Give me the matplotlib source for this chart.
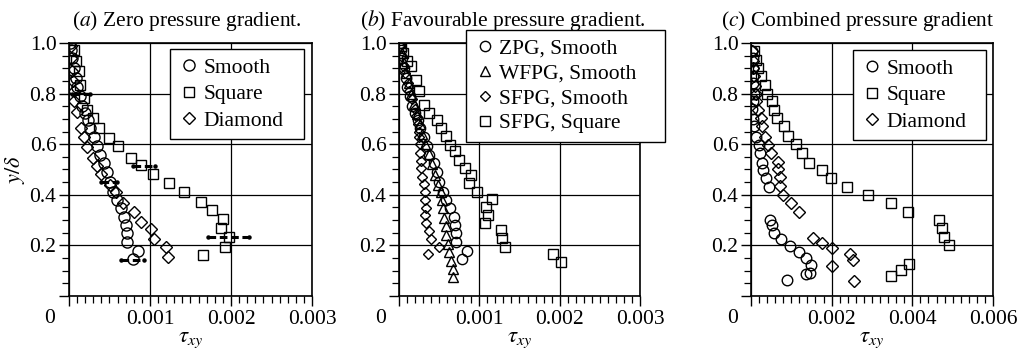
import matplotlib
matplotlib.use("Agg")
import matplotlib.pyplot as plt
from matplotlib.ticker import MultipleLocator

plt.rcParams["font.family"] = ["Liberation Serif", "DejaVu Serif"]
plt.rcParams["mathtext.fontset"] = "stix"
plt.rcParams["font.size"] = 15

# ---- (a) zero pressure gradient ----
a_smooth_x = [0.000017, 0.000029, 0.000041, 0.000058, 0.000083, 0.000103, 0.000132,
              0.000165, 0.000194, 0.000236, 0.000264, 0.000306, 0.000347, 0.00038,
              0.00043, 0.000475, 0.000504, 0.000545, 0.000587, 0.00064, 0.00068,
              0.0007, 0.000712, 0.000716, 0.000848, 0.000786]
a_smooth_y = [1.0, 0.974, 0.94, 0.90, 0.861, 0.826, 0.789, 0.752, 0.725, 0.694, 0.663,
              0.63, 0.593, 0.557, 0.524, 0.491, 0.452, 0.412, 0.379, 0.348, 0.313,
              0.28, 0.248, 0.215, 0.179, 0.145]
a_square_x = [0.000065, 0.000086, 0.00012, 0.000136, 0.000189, 0.000219, 0.000293,
              0.000374, 0.00049, 0.000601, 0.000765, 0.00089, 0.00104, 0.00123,
              0.001424, 0.00163, 0.00176, 0.0019, 0.001877, 0.00198, 0.001926, 0.00165]
a_square_y = [0.974, 0.928, 0.888, 0.835, 0.783, 0.737, 0.704, 0.664, 0.625, 0.592,
              0.545, 0.518, 0.482, 0.445, 0.41, 0.373, 0.34, 0.303, 0.268, 0.232,
              0.195, 0.162]
a_diamond_x = [0.00002, 0.00003, 0.00004, 0.00005, 0.00006, 0.000066, 0.000099,
               0.000145, 0.000182, 0.000223, 0.000298, 0.000347, 0.0004, 0.000504,
               0.000579, 0.000661, 0.000806, 0.00089, 0.00101, 0.00105, 0.0012, 0.00122]
a_diamond_y = [0.987, 0.94, 0.89, 0.85, 0.81, 0.769, 0.729, 0.663, 0.63, 0.59, 0.544,
               0.515, 0.482, 0.439, 0.412, 0.369, 0.333, 0.294, 0.265, 0.225, 0.192,
               0.153]
# horizontal error bars in (a)
err_y = [0.80, 0.515, 0.45, 0.232, 0.142]
err_lo = [0.000033, 0.00079, 0.0004, 0.00172, 0.00064]
err_hi = [0.00026, 0.00106, 0.000595, 0.00222, 0.000926]

# ---- (b) favourable pressure gradient ----
b_wfpg_x = [0.00002, 0.00004, 0.00006, 0.00009, 0.00012, 0.00015, 0.00019, 0.00022,
            0.00026, 0.00029, 0.00033, 0.00037, 0.00041, 0.00045, 0.00049, 0.00052,
            0.00054, 0.00055, 0.000565, 0.00058, 0.00059, 0.00061, 0.00062, 0.00065,
            0.00067, 0.00067]
b_wfpg_y = [1.0, 0.96, 0.92, 0.88, 0.84, 0.80, 0.76, 0.72, 0.68, 0.64, 0.60, 0.56,
            0.52, 0.48, 0.44, 0.41, 0.38, 0.346, 0.31, 0.275, 0.24, 0.207, 0.174,
            0.14, 0.108, 0.075]
b_sfpg_x = [0.000017, 0.000029, 0.00005, 0.00007, 0.00011, 0.00013, 0.000165,
            0.000194, 0.000215, 0.000236, 0.000244, 0.000248, 0.000256, 0.000264,
            0.00027, 0.000272, 0.000292, 0.000313, 0.000325, 0.000325, 0.000333,
            0.000325, 0.000333, 0.000375, 0.000395, 0.0005, 0.000366]
b_sfpg_y = [0.99, 0.95, 0.91, 0.88, 0.84, 0.81, 0.78, 0.74, 0.71, 0.68, 0.65, 0.63,
            0.60, 0.565, 0.535, 0.505, 0.472, 0.443, 0.41, 0.379, 0.347, 0.32, 0.287,
            0.257, 0.224, 0.192, 0.165]
b_sq_x = [0.00002, 0.00005, 0.0001, 0.000148, 0.00021, 0.00025, 0.000313, 0.000375,
          0.000477, 0.00052, 0.00058, 0.00064, 0.0007, 0.000745, 0.000827, 0.0009,
          0.000877, 0.00097, 0.00116, 0.00108, 0.00111, 0.00107, 0.00127, 0.00128,
          0.00132, 0.00192, 0.00202]
b_sq_y = [0.99, 0.96, 0.93, 0.908, 0.855, 0.809, 0.756, 0.723, 0.697, 0.664, 0.631,
          0.598, 0.572, 0.539, 0.505, 0.478, 0.445, 0.412, 0.382, 0.353, 0.32, 0.29,
          0.261, 0.228, 0.195, 0.166, 0.136]

# ---- (c) combined pressure gradient ----
c_smooth_x = [0.00003, 0.00005, 0.00004, 0.00006, 0.00005, 0.00008, 0.00004, 0.00003,
              0.00004, 0.00007, 0.00012, 0.0002, 0.00023, 0.00027, 0.0003, 0.00038,
              0.00044, 0.00047, 0.00052, 0.00057, 0.00075, 0.00098, 0.0012, 0.00137,
              0.0015, 0.00147, 0.00136, 0.00089]
c_smooth_y = [0.97, 0.94, 0.90, 0.87, 0.84, 0.80, 0.77, 0.74, 0.70, 0.67, 0.63, 0.597,
              0.564, 0.527, 0.498, 0.465, 0.432, 0.30, 0.28, 0.25, 0.224, 0.198, 0.175,
              0.149, 0.123, 0.091, 0.086, 0.062]
c_square_x = [0.00007, 0.00012, 0.00017, 0.00026, 0.00034, 0.0004, 0.00053, 0.00056,
              0.00064, 0.00081, 0.00092, 0.00111, 0.00127, 0.00145, 0.00175, 0.00198,
              0.00237, 0.0029, 0.00348, 0.0039, 0.00467, 0.00474, 0.00478, 0.0049,
              0.00392, 0.00373, 0.00348]
c_square_y = [0.967, 0.934, 0.90, 0.868, 0.835, 0.80, 0.769, 0.736, 0.703, 0.67, 0.633,
              0.60, 0.567, 0.527, 0.498, 0.465, 0.432, 0.40, 0.366, 0.333, 0.30, 0.268,
              0.234, 0.202, 0.127, 0.104, 0.078]
c_diamond_x = [0.00003, 0.00006, 0.00005, 0.00008, 0.0001, 0.00012, 0.00012, 0.00017,
               0.00026, 0.00028, 0.00034, 0.00042, 0.0005, 0.00067, 0.00068, 0.00071,
               0.00071, 0.00079, 0.001, 0.0012, 0.00153, 0.00175, 0.002, 0.00246,
               0.00254, 0.002, 0.00255]
c_diamond_y = [0.97, 0.93, 0.90, 0.87, 0.83, 0.80, 0.77, 0.736, 0.703, 0.67, 0.63,
               0.597, 0.564, 0.531, 0.50, 0.469, 0.435, 0.40, 0.369, 0.333, 0.228,
               0.211, 0.188, 0.166, 0.142, 0.118, 0.059]

titles = [r"($a$) Zero pressure gradient.", r"($b$) Favourable pressure gradient.",
          r"($c$) Combined pressure gradient"]
title_x = [0.486, 0.432, 0.442]
xtick_vals = [[0, 0.001, 0.002, 0.003], [0, 0.001, 0.002, 0.003], [0, 0.002, 0.004, 0.006]]
xtick_text = [["", "0.001", "0.002", "0.003"], ["", "0.001", "0.002", "0.003"],
              ["", "0.002", "0.004", "0.006"]]
ytick_vals = [0, 0.2, 0.4, 0.6, 0.8, 1.0]
ytick_text = ["", "0.2", "0.4", "0.6", "0.8", "1.0"]
# legend boxes (left, top, right) in axes fraction
legend_box = [(0.416, 0.976, 0.967), (0.278, 1.051, 1.104), (0.421, 0.972, 0.971)]
legend_space = [0.3, 0.22, 0.3]

fig = plt.figure(figsize=(10.17, 3.57), dpi=100)
lefts = [0.0678, 0.3923, 0.7384]
widths = [0.239, 0.237, 0.238]
axes = [fig.add_axes([l, 0.1709, w, 0.7087]) for l, w in zip(lefts, widths)]

mk = dict(linestyle="none", markerfacecolor="none", markeredgecolor="black",
          markeredgewidth=1.0)

ax = axes[0]
ax.plot(a_smooth_x, a_smooth_y, marker="o", ms=8.0, label="Smooth", **mk)
ax.plot(a_square_x, a_square_y, marker="s", ms=7.2, label="Square", **mk)
ax.plot(a_diamond_x, a_diamond_y, marker="D", ms=6.2, label="Diamond", **mk)
for yv, lo, hi in zip(err_y, err_lo, err_hi):
    ax.plot([lo, hi], [yv, yv], color="black", lw=2.2, linestyle=(0, (2.5, 1.2)),
            marker="o", ms=2.2, zorder=5)
ax.set_xlim(0, 0.003)
ax.set_ylabel(r"$y/\delta$", fontsize=16, labelpad=2)

ax = axes[1]
ax.plot(a_smooth_x, a_smooth_y, marker="o", ms=7.4, label="ZPG, Smooth", **mk)
ax.plot(b_wfpg_x, b_wfpg_y, marker="^", ms=7.4, label="WFPG, Smooth", **mk)
ax.plot(b_sfpg_x, b_sfpg_y, marker="D", ms=5.6, label="SFPG, Smooth", **mk)
ax.plot(b_sq_x, b_sq_y, marker="s", ms=6.8, label="SFPG, Square", **mk)
ax.set_xlim(0, 0.003)

ax = axes[2]
ax.plot(c_smooth_x, c_smooth_y, marker="o", ms=7.6, label="Smooth", **mk)
ax.plot(c_square_x, c_square_y, marker="s", ms=7.0, label="Square", **mk)
ax.plot(c_diamond_x, c_diamond_y, marker="D", ms=6.0, label="Diamond", **mk)
ax.set_xlim(0, 0.006)

for i, ax in enumerate(axes):
    ax.set_ylim(0, 1.0)
    ax.set_xticks(xtick_vals[i])
    ax.set_xticklabels(xtick_text[i])
    ax.set_yticks(ytick_vals)
    ax.set_yticklabels(ytick_text)
    ax.xaxis.set_minor_locator(MultipleLocator(xtick_vals[i][1] / 10))
    ax.yaxis.set_minor_locator(MultipleLocator(0.05))
    ax.tick_params(which="major", direction="out", length=7, width=1.0, labelsize=15.5)
    ax.tick_params(axis="x", which="major", pad=3)
    ax.tick_params(axis="y", which="major", pad=2)
    ax.tick_params(which="minor", direction="out", length=5, width=0.9)
    ax.grid(True, which="major", color="black", lw=0.9)
    ax.set_axisbelow(True)
    for s in ax.spines.values():
        s.set_linewidth(1.2)
    ax.set_xlabel(r"$\tau_{xy}$", fontsize=16.5, labelpad=0)
    ax.set_title(titles[i], fontsize=15.5, pad=12.5, x=title_x[i])
    ax.text(-0.078, -0.087, "0", transform=ax.transAxes, ha="center", va="center",
            fontsize=15.5)
    l0, top, r0 = legend_box[i]
    leg = ax.legend(loc="upper left", bbox_to_anchor=(l0, top - 0.5, r0 - l0, 0.5),
                    mode="expand", fancybox=False, framealpha=1, edgecolor="black",
                    borderpad=0.4, handletextpad=0.15, handlelength=1.0,
                    labelspacing=legend_space[i], borderaxespad=0, fontsize=15.5)
    leg.get_frame().set_linewidth(1.0)
    leg.set_zorder(10)

fig.savefig("out.png", dpi=100)
